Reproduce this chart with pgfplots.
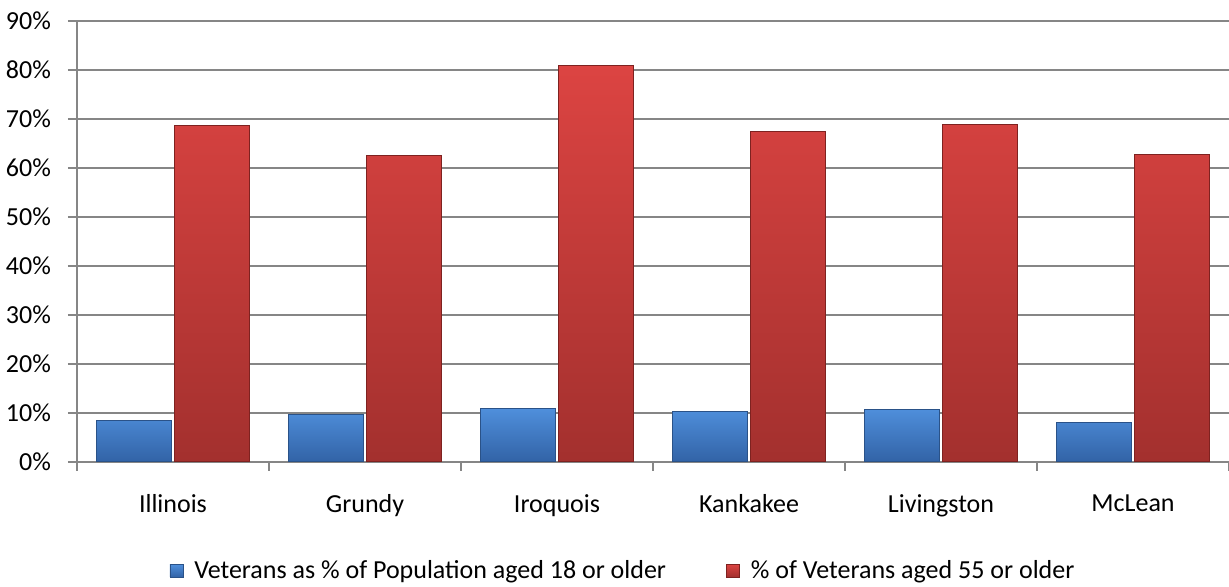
\documentclass[border=0pt]{standalone}
\usepackage{fontspec}
\setmainfont{Carlito}
\usepackage{pgfplots}
\pgfplotsset{compat=1.18}

\definecolor{gridgray}{HTML}{868686}
\definecolor{bluetop}{HTML}{4F8FDC}
\definecolor{bluebot}{HTML}{3263A6}
\definecolor{blueedge}{HTML}{2A5288}
\definecolor{redtop}{HTML}{DC4442}
\definecolor{redbot}{HTML}{A3302E}
\definecolor{rededge}{HTML}{7E2220}

\begin{document}
\begin{tikzpicture}[font=\fontsize{13}{15.5}\selectfont]
\path[use as bounding box] (-38.5pt,-62.15pt) rectangle (576pt,230.85pt);
\begin{axis}[
  at={(0,0)}, anchor=south west,
  scale only axis,
  width=576pt, height=220.35pt,
  ybar=1.5pt, bar width=37.5pt,
  xmin=-0.5, xmax=5.5,
  ymin=0, ymax=90,
  xtick={-0.5,0.5,...,5.5},
  xticklabels={},
  extra x ticks={0,1,2,3,4,5},
  extra x tick labels={Illinois,Grundy,Iroquois,Kankakee,Livingston,McLean},
  extra x tick style={major tick length=0pt, xticklabel style={yshift=-13pt}},
  ytick={0,10,...,90},
  yticklabel={\pgfmathprintnumber{\tick}\%},
  /pgf/number format/assume math mode=true,
  ymajorgrids,
  grid style={gridgray, line width=1pt},
  axis x line*=bottom, axis y line*=left,
  axis line style={gridgray, line width=1pt, -},
  tick style={gridgray, line width=1pt},
  major tick length=4.5pt,
  tick align=outside,
  yticklabel style={xshift=-5pt},
  legend columns=2,
  legend style={draw=none, at={(0.4748,-0.247)}, anchor=center,
    /tikz/every even column/.append style={column sep=28pt},
    font=\fontsize{13}{15.5}\selectfont},
  legend image code/.code={%
    \path[#1] (0pt,-3.2pt) rectangle (6.5pt,3.2pt);
    \path (10pt,0pt);},
]
\addplot[top color=bluetop, bottom color=bluebot, draw=blueedge, line width=0.4pt]
  coordinates {(0,8.5) (1,9.7) (2,10.9) (3,10.2) (4,10.7) (5,8.0)};
\addplot[top color=redtop, bottom color=redbot, draw=rededge, line width=0.4pt]
  coordinates {(0,68.6) (1,62.6) (2,81.0) (3,67.4) (4,68.9) (5,62.8)};
\legend{Veterans as \% of Population aged 18 or older, \% of Veterans aged 55 or older}
\end{axis}
\end{tikzpicture}
\end{document}
